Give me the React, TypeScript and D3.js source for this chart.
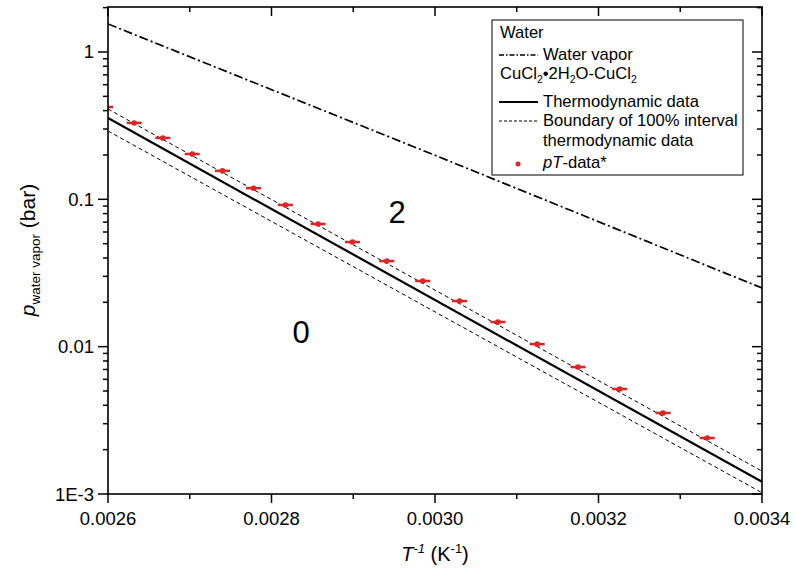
import { scaleLinear, scaleLog, line } from 'd3';

// 1/T values (K^-1) and measured pressures (bar)
const pointInvT = [0.002597, 0.002632, 0.002667, 0.002703, 0.00274, 0.002778, 0.002817, 0.002857, 0.002899,
    0.002941, 0.002985, 0.00303, 0.003077, 0.003125, 0.003175, 0.003226, 0.003279, 0.003333];
const pointP = [0.423, 0.33, 0.261, 0.203, 0.156, 0.119, 0.0916, 0.068, 0.0513,
    0.0381, 0.0279, 0.0204, 0.0147, 0.0104, 0.00727, 0.00516, 0.00355, 0.0024];
const pointErr = 0.0000092;

const vaporX = [0.0026, 0.003, 0.0034];
const vaporP = [1.55, 0.199, 0.025];

const thermoX = [0.0026, 0.0034];
const thermoP = [0.356, 0.00121];
const upperP = [0.41, 0.00143];
const lowerP = [0.291, 0.00102];

const xMajor = [0.0026, 0.0028, 0.003, 0.0032, 0.0034];
const xMinor = [0.0027, 0.0029, 0.0031, 0.0033];
const yMajor = [0.001, 0.01, 0.1, 1];
const yMajorLabels = ['1E-3', '0.01', '0.1', '1'];

const RED = '#dc2626';
const FONT = 'Liberation Sans, Arial, sans-serif';

export default function App() {
    const left = 108, right = 762, top = 7, bottom = 494;

    const x = scaleLinear().domain([0.0026, 0.0034]).range([left, right]);
    const y = scaleLog().domain([0.001, 2.02]).range([bottom, top]);

    const yMinor: number[] = [];
    [0.001, 0.01, 0.1, 1].forEach((d) => {
        for (let k = 2; k <= 9; k++) {
            const v = d * k;
            if (v <= 2.02) yMinor.push(v);
        }
    });

    const mk = (xs: number[], ps: number[]) =>
        line<number>().x((d) => x(d)).y((_, i) => y(ps[i]))(xs) || '';

    return (
        <svg width={795} height={573} style={{ position: 'absolute', left: 0, top: 0, background: '#fff' }}
            fontFamily={FONT}>
            <defs>
                <clipPath id='plot'>
                    <rect x={left} y={top} width={right - left} height={bottom - top} />
                </clipPath>
            </defs>

            <g clipPath='url(#plot)'>
                <path d={mk(vaporX, vaporP)} fill='none' stroke='#000' strokeWidth={1.7}
                    strokeDasharray='9,3,2,3' />
                <path d={mk(thermoX, upperP)} fill='none' stroke='#000' strokeWidth={1} strokeDasharray='4,3' />
                <path d={mk(thermoX, lowerP)} fill='none' stroke='#000' strokeWidth={1} strokeDasharray='4,3' />
                <path d={mk(thermoX, thermoP)} fill='none' stroke='#000' strokeWidth={2.2} />
                {pointInvT.map((t, i) => (
                    <g key={i}>
                        <line x1={x(t - pointErr)} x2={x(t + pointErr)} y1={y(pointP[i])} y2={y(pointP[i])}
                            stroke={RED} strokeWidth={2.5} />
                        <circle cx={x(t)} cy={y(pointP[i])} r={2.8} fill={RED} />
                    </g>
                ))}
            </g>

            {/* frame */}
            <rect x={left} y={top} width={right - left} height={bottom - top} fill='none' stroke='#000'
                strokeWidth={1.6} />

            {/* x ticks */}
            {xMajor.map((d) => (
                <g key={'xM' + d}>
                    <line x1={x(d)} x2={x(d)} y1={bottom} y2={bottom + 9} stroke='#000' strokeWidth={1.5} />
                    <line x1={x(d)} x2={x(d)} y1={top} y2={top + 9} stroke='#000' strokeWidth={1.5} />
                    <text x={x(d)} y={525} fontSize={18.5} textAnchor='middle'>{d.toFixed(4)}</text>
                </g>
            ))}
            {xMinor.map((d) => (
                <g key={'xm' + d}>
                    <line x1={x(d)} x2={x(d)} y1={bottom} y2={bottom + 5} stroke='#000' strokeWidth={1.5} />
                    <line x1={x(d)} x2={x(d)} y1={top} y2={top + 5} stroke='#000' strokeWidth={1.5} />
                </g>
            ))}

            {/* y ticks */}
            {yMajor.map((d, i) => (
                <g key={'yM' + d}>
                    <line x1={left - 10} x2={left} y1={y(d)} y2={y(d)} stroke='#000' strokeWidth={1.5} />
                    <line x1={right - 10} x2={right} y1={y(d)} y2={y(d)} stroke='#000' strokeWidth={1.5} />
                    <text x={94} y={y(d) + 6.5} fontSize={18.5} textAnchor='end'>{yMajorLabels[i]}</text>
                </g>
            ))}
            {yMinor.map((d) => (
                <g key={'ym' + d}>
                    <line x1={left - 5} x2={left} y1={y(d)} y2={y(d)} stroke='#000' strokeWidth={1.5} />
                    <line x1={right - 5} x2={right} y1={y(d)} y2={y(d)} stroke='#000' strokeWidth={1.5} />
                </g>
            ))}

            {/* axis titles */}
            <text x={435} y={561} fontSize={20} textAnchor='middle'>
                <tspan fontStyle='italic'>T</tspan>
                <tspan fontStyle='italic' fontSize={13} dy={-8}>-1</tspan>
                <tspan dy={8}> (K</tspan>
                <tspan fontSize={13} dy={-8}>-1</tspan>
                <tspan dy={8}>)</tspan>
            </text>
            <text transform='translate(35,250) rotate(-90)' fontSize={21} textAnchor='middle'>
                <tspan fontStyle='italic'>p</tspan>
                <tspan fontSize={13.5} dy={5}>water vapor</tspan>
                <tspan dy={-5}> (bar)</tspan>
            </text>

            {/* region labels */}
            <text x={397} y={223} fontSize={31} textAnchor='middle'>2</text>
            <text x={301} y={343} fontSize={31} textAnchor='middle'>0</text>

            {/* legend */}
            <g fontSize={16.6}>
                <rect x={492} y={20} width={251} height={155} fill='#fff' stroke='#000' strokeWidth={1} />
                <text x={500} y={38}>Water</text>
                <line x1={499} x2={538} y1={55} y2={55} stroke='#000' strokeWidth={1.5}
                    strokeDasharray='5,2,1.5,2' />
                <text x={543} y={60}>Water vapor</text>
                <text x={500} y={79}>
                    CuCl<tspan fontSize={10.5} dy={4}>2</tspan>
                    <tspan dy={-4}>•2H</tspan><tspan fontSize={10.5} dy={4}>2</tspan>
                    <tspan dy={-4}>O-CuCl</tspan><tspan fontSize={10.5} dy={4}>2</tspan>
                </text>
                <line x1={499} x2={538} y1={102} y2={102} stroke='#000' strokeWidth={2} />
                <text x={543} y={107}>Thermodynamic data</text>
                <line x1={499} x2={538} y1={121} y2={121} stroke='#000' strokeWidth={1} strokeDasharray='3,2' />
                <text x={543} y={126}>Boundary of 100% interval</text>
                <text x={543} y={146}>thermodynamic data</text>
                <circle cx={518} cy={164} r={2.5} fill={RED} />
                <text x={543} y={168}><tspan fontStyle='italic'>pT</tspan>-data*</text>
            </g>
        </svg>
    );
}
